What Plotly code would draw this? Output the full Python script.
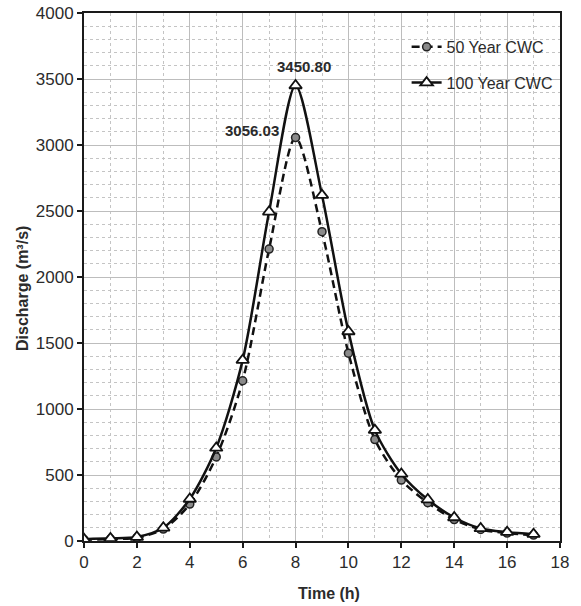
import plotly.graph_objects as go

# Hydrograph data: discharge (m³/s) against time (h)
time_h = list(range(0, 18))
q_50yr = [10, 15, 25, 90, 280, 637, 1214, 2212, 3056.03, 2343, 1423, 768, 462, 290, 162, 88, 60, 45]
q_100yr = [14, 20, 30, 100, 318, 705, 1370, 2494, 3450.80, 2620, 1587, 840, 508, 314, 178, 95, 67, 52]

series_names = ["50 Year CWC", "100 Year CWC"]
x_ticks = list(range(0, 19, 2))
y_ticks = list(range(0, 4001, 500))

FONT = "Arial, Liberation Sans, sans-serif"
TEXT_COLOR = "#2b2b2b"

fig = go.Figure()

fig.add_trace(go.Scatter(
    x=time_h, y=q_50yr, name=series_names[0], legendgroup="g50",
    mode="lines+markers",
    line=dict(color="#111111", width=2.5, dash="8px,5px", shape="spline", smoothing=0.8),
    marker=dict(symbol="circle", size=8, color="#8a8a8a",
                line=dict(color="#222222", width=1.5)),
))

fig.add_trace(go.Scatter(
    x=time_h, y=q_100yr, name=series_names[1], legendgroup="g100",
    mode="lines+markers",
    line=dict(color="#111111", width=2.5, shape="spline", smoothing=0.8),
    marker=dict(symbol="triangle-up", size=11, color="white",
                line=dict(color="#111111", width=1.8)),
))

# Peak value labels
peak_50 = max(q_50yr)
peak_100 = max(q_100yr)
t_peak_50 = time_h[q_50yr.index(peak_50)]
t_peak_100 = time_h[q_100yr.index(peak_100)]
fig.add_annotation(x=t_peak_100, y=peak_100, text=f"<b>{peak_100:.2f}</b>",
                   showarrow=False, xshift=8, yshift=19,
                   font=dict(size=15, color=TEXT_COLOR, family=FONT))
fig.add_annotation(x=t_peak_50, y=peak_50, text=f"<b>{peak_50:.2f}</b>",
                   showarrow=False, xshift=-44, yshift=7,
                   font=dict(size=15, color=TEXT_COLOR, family=FONT))

# Axis titles
fig.add_annotation(xref="paper", yref="paper", x=0.5, y=0, yanchor="middle",
                   yshift=-52, xshift=7, showarrow=False,
                   text="<b>Time (h)</b>", font=dict(size=16, color=TEXT_COLOR, family=FONT))
fig.add_annotation(xref="paper", yref="paper", x=0, y=0.5, xanchor="center",
                   xshift=-62, yshift=-12, textangle=-90, showarrow=False,
                   text="<b>Discharge (m³/s)</b>", font=dict(size=16, color=TEXT_COLOR, family=FONT))

axis_common = dict(
    showline=True, linecolor="#1a1a1a", linewidth=2, mirror=True,
    ticks="outside", ticklen=5, tickwidth=1.5, tickcolor="#1a1a1a",
    showgrid=True, gridcolor="#bdbdbd", gridwidth=1.3,
    tickfont=dict(size=17, color=TEXT_COLOR, family=FONT),
    zeroline=False, automargin=False,
)

fig.update_xaxes(
    range=[0, 18], tickvals=x_ticks,
    minor=dict(dtick=1, showgrid=True, gridcolor="#c4c4c4", griddash="dot", gridwidth=1, ticks=""),
    **axis_common,
)
fig.update_yaxes(
    range=[0, 4000], tickvals=y_ticks,
    minor=dict(dtick=100, showgrid=True, gridcolor="#c4c4c4", griddash="dot", gridwidth=1, ticks=""),
    **axis_common,
)

fig.update_layout(
    width=581, height=606,
    margin=dict(l=84, r=21, t=13, b=65),
    paper_bgcolor="white", plot_bgcolor="white",
    showlegend=True,
    legend=dict(x=0.995, y=0.968, xanchor="right", yanchor="top",
                bgcolor="rgba(255,255,255,0)", borderwidth=0,
                font=dict(size=16, color=TEXT_COLOR, family=FONT),
                tracegroupgap=12),
)

fig.write_html("out.html")
